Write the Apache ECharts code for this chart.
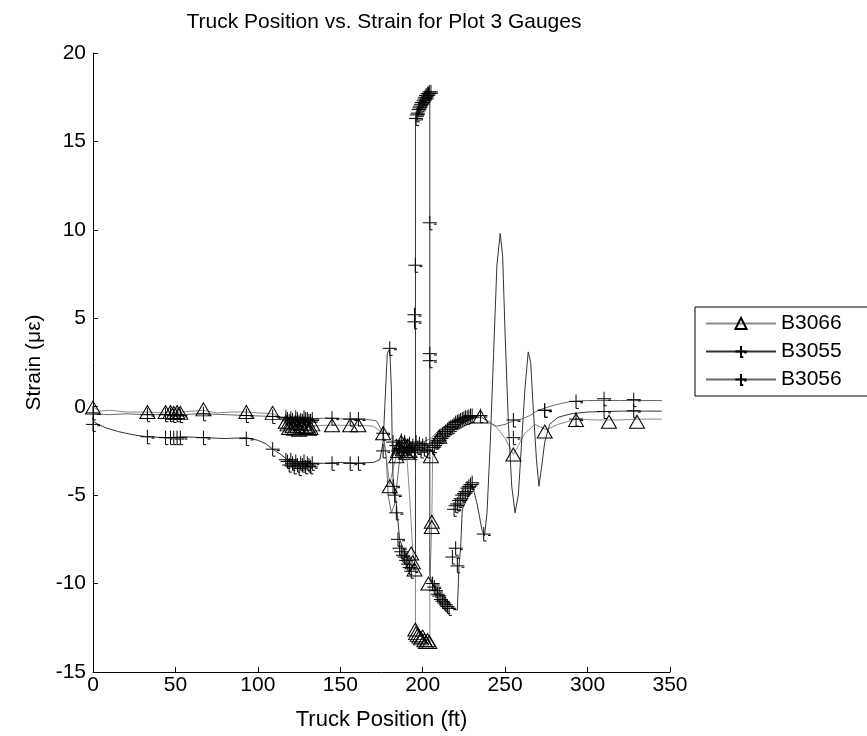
<!DOCTYPE html>
<html>
<head>
<meta charset="utf-8">
<script src="https://cdn.jsdelivr.net/npm/echarts@6/dist/echarts.min.js"></script>
<style>
  html, body { margin: 0; padding: 0; background: #fff; }
  #chart { width: 867px; height: 736px; }
</style>
</head>
<body>
<div id="chart"></div>
<script>
// axis ticks
const xTicks = [0, 50, 100, 150, 200, 250, 300, 350]
const yTicks = [-15, -10, -5, 0, 5, 10, 15, 20]

// continuous traces (truck position ft, strain)
const b3066LineX = [0, 4, 10, 20, 33, 44, 53, 60, 67, 75, 85, 93, 100, 109, 114, 117, 122, 128, 133, 140, 150, 161, 170, 176, 180, 182, 184, 186, 190, 192, 194, 195.6, 195.6, 198, 201, 204.3, 204.3, 205.5, 206, 208, 212, 218, 224, 230, 235, 240, 246, 250, 255, 258, 262, 268, 275, 282, 293, 305, 320, 330, 345]
const b3066LineY = [0, -0.25, -0.2, -0.3, -0.3, -0.35, -0.3, -0.25, -0.2, -0.35, -0.3, -0.3, -0.35, -0.4, -0.6, -0.9, -1.1, -1.2, -1.1, -1.05, -1.05, -1.05, -1.1, -1.5, -4.4, -3.5, -2.8, -2.4, -2.3, -5, -8.2, -9.2, -12.4, -12.9, -13.1, -13.3, -10.2, -6.6, -2.9, -2.2, -1.7, -1.2, -0.9, -0.7, -0.6, -0.8, -1.3, -1.8, -2.7, -2.2, -1.5, -1.0, -1.3, -1.0, -0.7, -0.75, -0.75, -0.7, -0.7]

const b3055LineX = [0, 3, 8, 15, 25, 33, 45, 55, 67, 80, 93, 100, 105, 109, 114, 118, 122, 130, 140, 150, 160, 170, 174, 176, 177, 178.5, 180, 181, 181.5, 182, 184, 186, 189, 192, 194.5, 195.6, 195.6, 196, 198, 200, 202, 204.3, 204.3, 206, 210, 214, 218, 221, 222, 223, 224, 228, 230, 233, 236, 237.5, 239, 241, 243, 245, 247, 248.5, 250, 252, 254, 256, 258, 260, 262, 264, 265.5, 267, 269, 270.5, 272, 274, 277, 282, 290, 300, 320, 345]
const b3055LineY = [-0.8, -1.0, -1.2, -1.4, -1.6, -1.7, -1.75, -1.7, -1.75, -1.8, -1.75, -1.9, -2.1, -2.4, -2.7, -3.0, -3.2, -3.2, -3.2, -3.15, -3.2, -3.15, -3.0, -2.0, 0, 3.0, 3.3, 1.0, -2, -4, -5.5, -7.5, -8.2, -8.8, -9.2, -8.5, 16.3, 16.5, 17.0, 17.3, 17.5, 17.8, -9.5, -10, -10.6, -11, -11.4, -11.5, -9, -8, -5.8, -5, -4.4, -5.5, -7.0, -7.3, -6, -2, 3, 8, 9.8, 8.5, 4, -1, -4.5, -6, -5, -2, 1, 3.1, 2.5, 0, -3, -4.5, -3.5, -2, -1, -0.6, -0.4, -0.3, -0.25, -0.25]

const b3056LineX = [0, 10, 20, 33, 50, 67, 93, 109, 115, 125, 140, 155, 165, 172, 176, 178, 179, 181, 183, 186, 190, 195, 200, 205, 210, 215, 220, 225, 230, 235, 240, 245, 250, 255, 260, 265, 270, 280, 290, 300, 320, 345]
const b3056LineY = [-0.4, -0.45, -0.4, -0.45, -0.45, -0.4, -0.5, -0.55, -0.6, -0.7, -0.65, -0.7, -0.7, -0.8, -1.5, -3, -5, -6, -5.5, -3, -2.5, -2.2, -2.0, -1.8, -1.3, -1.0, -0.8, -0.6, -0.5, -0.5, -0.9, -1.1, -1.0, -0.8, -0.7, -0.5, -0.2, 0.1, 0.3, 0.35, 0.35, 0.35]

// marker samples
const b3066MarkX = [0, 33, 44, 47, 49, 51, 53, 67, 93, 109, 117, 118, 119, 120, 121, 122, 123, 124, 125, 126, 127, 128, 129, 130, 131, 132, 133, 145, 156, 161, 176, 180, 184, 185, 186, 187, 188, 189, 190, 191, 192, 193, 194, 195, 195.5, 196, 197, 198, 199, 200, 201, 202, 203, 204, 203.5, 205.5, 205.5, 205, 210, 235, 255, 274, 293, 313, 330]
const b3066MarkY = [-0.05, -0.3, -0.3, -0.3, -0.35, -0.3, -0.35, -0.15, -0.3, -0.35, -0.85, -1.0, -1.2, -0.9, -1.1, -1.25, -0.9, -1.1, -1.3, -1.0, -1.2, -0.95, -1.15, -1.1, -1.25, -1.2, -1.0, -1.05, -1.05, -1.05, -1.5, -4.5, -2.8, -2.5, -2.3, -2.0, -2.4, -2.1, -2.6, -2.2, -2.5, -8.3, -8.8, -9.2, -12.6, -12.8, -12.9, -13.0, -13.1, -13.0, -13.2, -13.3, -13.2, -13.3, -10.0, -6.5, -6.8, -2.8, -1.7, -0.55, -2.7, -1.4, -0.75, -0.85, -0.85]

const b3055MarkX = [0, 33, 44, 47, 49, 51, 53, 67, 93, 109, 117, 118, 119, 120, 121, 122, 123, 124, 125, 126, 127, 128, 129, 130, 131, 132, 133, 145, 156, 161, 176, 180, 182, 183, 184, 185, 186, 187, 188, 189, 190, 191, 192, 193, 195, 195, 195.5, 196, 196.5, 197, 197.5, 198, 198.5, 199, 199.5, 200, 200.5, 201, 201.5, 202, 202.5, 203, 203.5, 204, 205, 204.3, 204.3, 204.3, 206, 207, 208, 209, 210, 211, 212, 213, 214, 215, 216, 218, 220, 221, 219, 220, 221, 222, 223, 224, 225, 226, 227, 228, 229, 230, 237, 255, 274, 293, 310, 328]
const b3055MarkY = [-1.0, -1.7, -1.75, -1.75, -1.75, -1.75, -1.75, -1.75, -1.8, -2.4, -3.0, -3.1, -3.3, -3.0, -3.2, -3.4, -3.1, -3.3, -3.5, -3.2, -3.3, -3.1, -3.4, -3.2, -3.3, -3.4, -3.2, -3.2, -3.2, -3.2, -2.5, 3.3, -4.5, -5, -6, -7.5, -8, -8.2, -8.4, -8.5, -8.7, -8.9, -9.1, -9.3, 4.8, 5.2, 8, 16.3, 16.5, 16.6, 16.8, 16.9, 17.0, 17.1, 17.2, 17.2, 17.3, 17.4, 17.5, 17.6, 17.6, 17.7, 17.7, 17.8, 17.8, 10.4, 3, 2.6, -10, -10.2, -10.4, -10.6, -10.7, -10.9, -11, -11.1, -11.2, -11.3, -11.4, -8.5, -8.0, -9, -5.8, -5.6, -5.5, -5.3, -5.2, -5.0, -4.9, -4.8, -4.6, -4.5, -4.4, -4.3, -7.2, -1.75, -0.2, -0.7, -0.27, -0.23]

const b3056MarkX = [0, 33, 44, 47, 49, 51, 53, 67, 93, 109, 117, 118, 119, 120, 121, 122, 123, 124, 125, 126, 127, 128, 129, 130, 131, 132, 133, 145, 156, 161, 176, 182, 184, 185, 186, 187, 188, 189, 190, 191, 192, 193, 194, 195, 196, 197, 198, 199, 200, 201, 202, 203, 206, 207, 208, 209, 210, 211, 212, 213, 214, 215, 216, 217, 218, 219, 220, 221, 222, 223, 224, 225, 226, 227, 228, 229, 230, 235, 255, 274, 293, 310, 328]
const b3056MarkY = [-0.35, -0.45, -0.45, -0.45, -0.5, -0.45, -0.5, -0.4, -0.5, -0.55, -0.6, -0.7, -0.8, -0.65, -0.75, -0.9, -0.6, -0.7, -0.85, -0.75, -0.8, -0.6, -0.7, -0.7, -0.8, -0.8, -0.7, -0.65, -0.7, -0.7, -1.5, -2, -2.2, -2.5, -2.4, -1.9, -2.6, -2.0, -2.3, -2.5, -2.1, -2.4, -2.2, -2.6, -2.0, -2.3, -2.1, -2.5, -2.2, -2.4, -2.1, -2.5, -2.3, -2.2, -2.0, -1.9, -1.8, -1.7, -1.6, -1.5, -1.4, -1.3, -1.2, -1.15, -1.1, -1.0, -0.9, -0.85, -0.8, -0.75, -0.7, -0.65, -0.6, -0.6, -0.55, -0.5, -0.5, -0.5, -0.75, -0.2, 0.3, 0.45, 0.4]

const zip = (xs, ys) => xs.map((x, i) => [x, ys[i]])

const plusPath = 'path://M5,0L5,10L7,10M0,5L10,5M8,6L10,6'
const fontFamily = '"Liberation Sans", Arial, sans-serif'

let myChart = echarts.init(document.getElementById('chart'))

function lineSeries(name, data, color, symbol) {
  return {
    name: name,
    type: 'line',
    data: data,
    showSymbol: false,
    symbol: symbol,
    symbolSize: 12,
    animation: false,
    silent: true,
    lineStyle: { color: color, width: 1 },
    itemStyle: { color: 'transparent', borderColor: '#000', borderWidth: 1 },
    z: 2
  }
}

function markSeries(name, data, symbol, size) {
  return {
    name: name,
    type: 'scatter',
    data: data,
    symbol: symbol,
    symbolSize: size,
    animation: false,
    silent: true,
    itemStyle: { color: 'transparent', borderColor: '#000', borderWidth: 1, opacity: 1 },
    z: 3
  }
}

let option = {
  animation: false,
  title: {
    text: 'Truck Position vs. Strain for Plot 3 Gauges',
    left: 379,
    textAlign: 'center',
    top: 7,
    textStyle: { fontFamily: fontFamily, fontSize: 21, fontWeight: 'normal', color: '#000' }
  },
  grid: { left: 93, right: 197, top: 53, bottom: 63 },
  legend: {
    orient: 'vertical',
    left: 695,
    top: 307,
    data: ['B3066', 'B3055', 'B3056'],
    itemWidth: 70,
    itemHeight: 14,
    itemGap: 7,
    padding: [6, 30, 6, 10],
    borderColor: '#000',
    borderWidth: 1,
    backgroundColor: '#fff',
    textStyle: { fontFamily: fontFamily, fontSize: 21, color: '#000' },
    selectedMode: false
  },
  xAxis: {
    type: 'value',
    min: 0,
    max: 350,
    interval: 50,
    name: 'Truck Position (ft)',
    nameLocation: 'middle',
    nameGap: 37,
    nameTextStyle: { fontFamily: fontFamily, fontSize: 22, color: '#000' },
    axisLine: { show: true, onZero: false, lineStyle: { color: '#000', width: 1 } },
    axisTick: { show: true, inside: true, length: 5, lineStyle: { color: '#000' } },
    axisLabel: { fontFamily: fontFamily, fontSize: 21, color: '#000', margin: 3 },
    splitLine: { show: false }
  },
  yAxis: {
    type: 'value',
    min: -15,
    max: 20,
    interval: 5,
    name: 'Strain (με)',
    nameLocation: 'middle',
    nameGap: 39,
    nameTextStyle: { fontFamily: fontFamily, fontSize: 21, color: '#000' },
    axisLine: { show: true, lineStyle: { color: '#000', width: 1 } },
    axisTick: { show: true, inside: true, length: 5, lineStyle: { color: '#000' } },
    axisLabel: { fontFamily: fontFamily, fontSize: 21, color: '#000', margin: 7 },
    splitLine: { show: false }
  },
  series: [
    lineSeries('B3066', zip(b3066LineX, b3066LineY), '#8a8a8a', 'triangle'),
    lineSeries('B3055', zip(b3055LineX, b3055LineY), '#333', plusPath),
    lineSeries('B3056', zip(b3056LineX, b3056LineY), '#666', plusPath),
    markSeries('B3066', zip(b3066MarkX, b3066MarkY), 'triangle', [15, 13]),
    markSeries('B3055', zip(b3055MarkX, b3055MarkY), plusPath, 14),
    markSeries('B3056', zip(b3056MarkX, b3056MarkY), plusPath, 14)
  ]
}
myChart.setOption(option)
</script>
</body>
</html>
